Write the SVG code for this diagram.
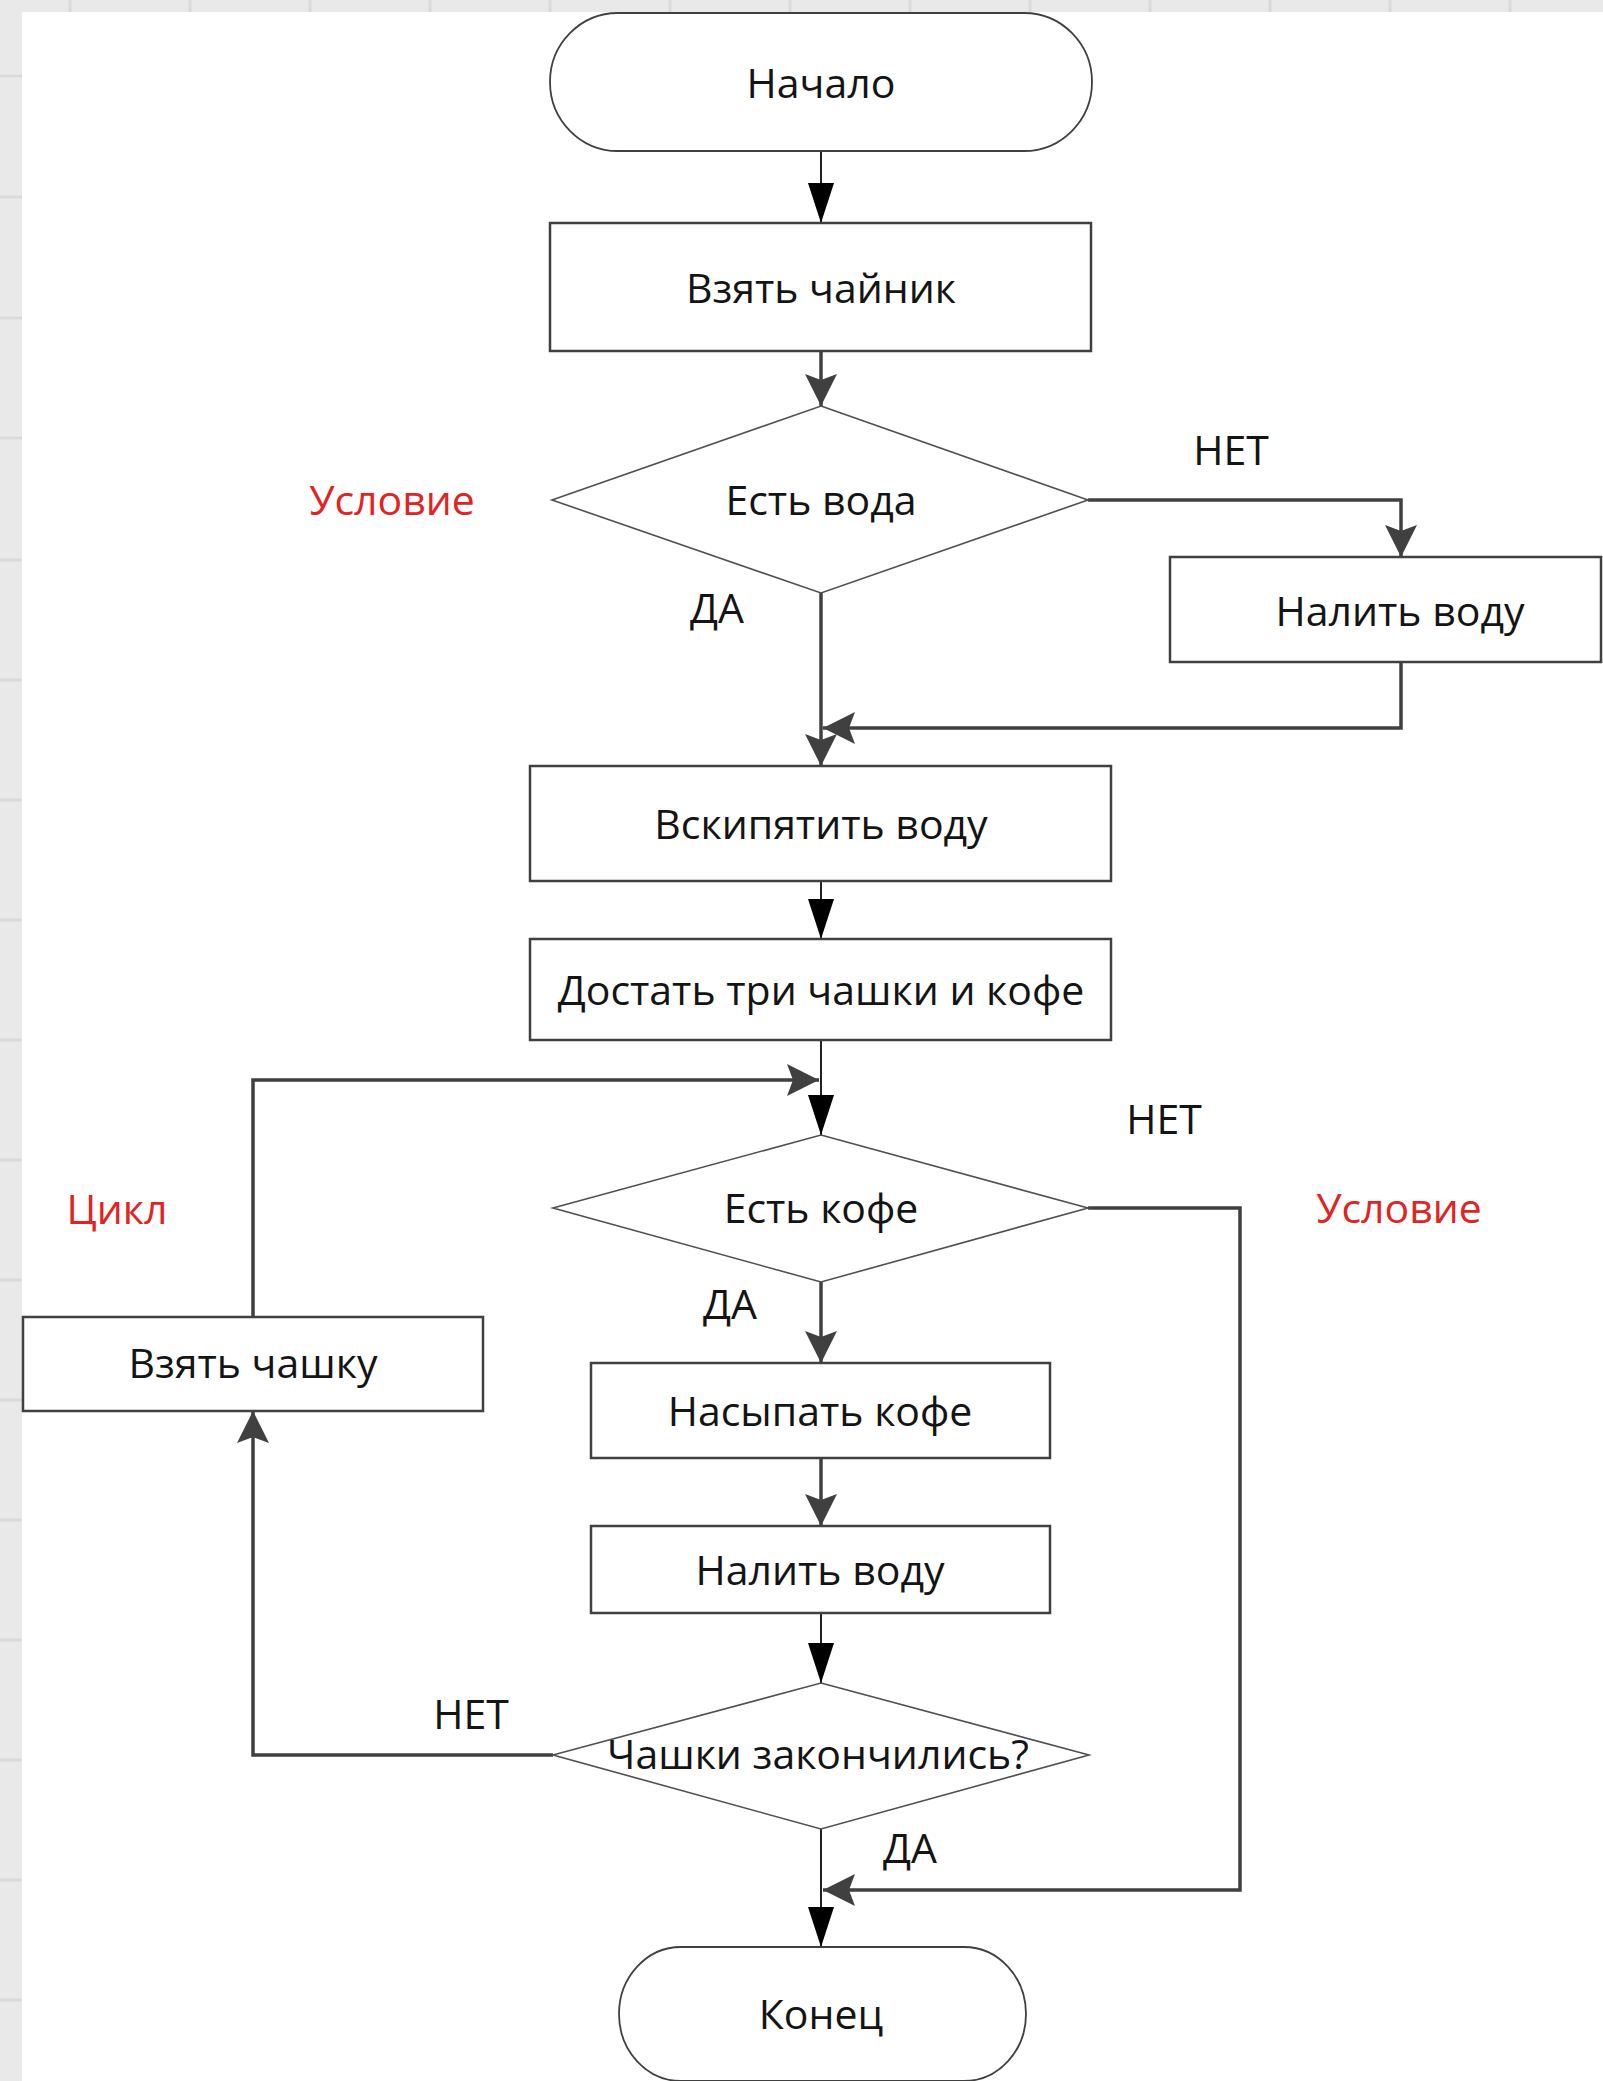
<svg xmlns="http://www.w3.org/2000/svg" width="1603" height="2081" viewBox="0 0 1603 2081">
<defs>
<style>
.bg{fill:#e9e9e9}
.grid{stroke:#dadada;stroke-width:3;fill:none}
.box{fill:#fff;stroke:#404040;stroke-width:2.5}
.dia{fill:#fff;stroke:#505050;stroke-width:1.6}
.t{font-family:"Open Sans","Noto Sans","DejaVu Sans",sans-serif;font-size:41px;fill:#141414;text-anchor:middle;dominant-baseline:central}
.red{fill:#e02424}
.c{fill:none;stroke:#404040;stroke-width:3.5}
.cb{fill:none;stroke:#222;stroke-width:2}
</style>
<pattern id="hatch" width="14" height="14" patternUnits="userSpaceOnUse" patternTransform="rotate(45)">
<rect width="14" height="14" fill="#ececec"/>
<rect width="6" height="14" fill="#f4f4f4"/>
</pattern>
<marker id="ab" viewBox="0 0 40 26" refX="40" refY="13" markerWidth="40" markerHeight="26" markerUnits="userSpaceOnUse" orient="auto">
<path d="M0,0 L40,13 L0,26 Z" fill="#000"/>
</marker>
<marker id="ag" viewBox="0 0 32 32" refX="32" refY="16" markerWidth="32" markerHeight="32" markerUnits="userSpaceOnUse" orient="auto">
<path d="M0,0 L32,16 L0,32 L6,16 Z" fill="#404040"/>
</marker>
</defs>
<rect class="bg" x="0" y="0" width="1603" height="2081" fill="url(#hatch)"/>
<g class="grid">
<line x1="0" y1="76" x2="22" y2="76"/><line x1="0" y1="197" x2="22" y2="197"/><line x1="0" y1="318" x2="22" y2="318"/><line x1="0" y1="438" x2="22" y2="438"/><line x1="0" y1="560" x2="22" y2="560"/><line x1="0" y1="680" x2="22" y2="680"/><line x1="0" y1="800" x2="22" y2="800"/><line x1="0" y1="920" x2="22" y2="920"/><line x1="0" y1="1040" x2="22" y2="1040"/><line x1="0" y1="1160" x2="22" y2="1160"/><line x1="0" y1="1280" x2="22" y2="1280"/><line x1="0" y1="1400" x2="22" y2="1400"/><line x1="0" y1="1520" x2="22" y2="1520"/><line x1="0" y1="1640" x2="22" y2="1640"/><line x1="0" y1="1760" x2="22" y2="1760"/><line x1="0" y1="1880" x2="22" y2="1880"/><line x1="0" y1="2000" x2="22" y2="2000"/>
<line x1="70" y1="0" x2="70" y2="12"/><line x1="190" y1="0" x2="190" y2="12"/><line x1="310" y1="0" x2="310" y2="12"/><line x1="430" y1="0" x2="430" y2="12"/><line x1="550" y1="0" x2="550" y2="12"/><line x1="670" y1="0" x2="670" y2="12"/><line x1="790" y1="0" x2="790" y2="12"/><line x1="910" y1="0" x2="910" y2="12"/><line x1="1030" y1="0" x2="1030" y2="12"/><line x1="1150" y1="0" x2="1150" y2="12"/><line x1="1270" y1="0" x2="1270" y2="12"/><line x1="1390" y1="0" x2="1390" y2="12"/><line x1="1510" y1="0" x2="1510" y2="12"/>
</g>
<rect x="22" y="12" width="1581" height="2069" fill="#fff"/>

<g id="connectors">
<path class="cb" d="M821,151 V223" marker-end="url(#ab)"/>
<path class="c" d="M821,351 V406" marker-end="url(#ag)"/>
<path class="c" d="M1088,500 H1401 V557" marker-end="url(#ag)"/>
<path class="c" d="M821,593 V766" marker-end="url(#ag)"/>
<path class="c" d="M1401,662 V728 H823" marker-end="url(#ag)"/>
<path class="cb" d="M821,881 V939" marker-end="url(#ab)"/>
<path class="cb" d="M821,1040 V1135" marker-end="url(#ab)"/>
<path class="c" d="M253,1317 V1080 H819" marker-end="url(#ag)"/>
<path class="c" d="M1088,1208 H1240 V1890 H823" marker-end="url(#ag)"/>
<path class="c" d="M821,1282 V1363" marker-end="url(#ag)"/>
<path class="c" d="M821,1458 V1526" marker-end="url(#ag)"/>
<path class="cb" d="M821,1613 V1683" marker-end="url(#ab)"/>
<path class="c" d="M553,1755 H253 V1411" marker-end="url(#ag)"/>
<path class="cb" d="M821,1829 V1947" marker-end="url(#ab)"/>
</g>

<g id="n-start"><rect class="box" x="550" y="13" width="542" height="138" rx="68" ry="69" style="stroke-width:1.8"/><text class="t" x="821" y="82">Начало</text></g>
<g id="n-kettle"><rect class="box" x="550" y="223" width="541" height="128"/><text class="t" x="821" y="287">Взять чайник</text></g>
<g id="n-water"><polygon class="dia" points="821,406 1088,500 821,593 552,500"/><text class="t" x="821" y="499">Есть вода</text></g>
<g id="n-pour1"><rect class="box" x="1170" y="557" width="431" height="105"/><text class="t" x="1400" y="610">Налить воду</text></g>
<g id="n-boil"><rect class="box" x="530" y="766" width="581" height="115"/><text class="t" x="821" y="823">Вскипятить воду</text></g>
<g id="n-cups"><rect class="box" x="530" y="939" width="581" height="101"/><text class="t" x="821" y="989">Достать три чашки и кофе</text></g>
<g id="n-coffee"><polygon class="dia" points="821,1135 1088,1208 821,1282 553,1208"/><text class="t" x="821" y="1207">Есть кофе</text></g>
<g id="n-takecup"><rect class="box" x="23" y="1317" width="460" height="94"/><text class="t" x="253" y="1362">Взять чашку</text></g>
<g id="n-addcoffee"><rect class="box" x="591" y="1363" width="459" height="95"/><text class="t" x="820" y="1410">Насыпать кофе</text></g>
<g id="n-pour2"><rect class="box" x="591" y="1526" width="459" height="87"/><text class="t" x="820" y="1569">Налить воду</text></g>
<g id="n-done"><polygon class="dia" points="821,1683 1089,1755 821,1829 553,1755"/><text class="t" x="818" y="1753">Чашки закончились?</text></g>
<g id="n-end"><rect class="box" x="619" y="1947" width="407" height="134" rx="62" ry="67" style="stroke-width:1.8"/><text class="t" x="821" y="2013">Конец</text></g>

<g id="labels">
<text class="t red" x="392" y="499">Условие</text>
<text class="t" x="1231" y="449">НЕТ</text>
<text class="t" x="717" y="607">ДА</text>
<text class="t" x="1164" y="1118">НЕТ</text>
<text class="t red" x="117" y="1208">Цикл</text>
<text class="t red" x="1399" y="1207">Условие</text>
<text class="t" x="730" y="1303">ДА</text>
<text class="t" x="471" y="1713">НЕТ</text>
<text class="t" x="910" y="1847">ДА</text>
</g>
</svg>
